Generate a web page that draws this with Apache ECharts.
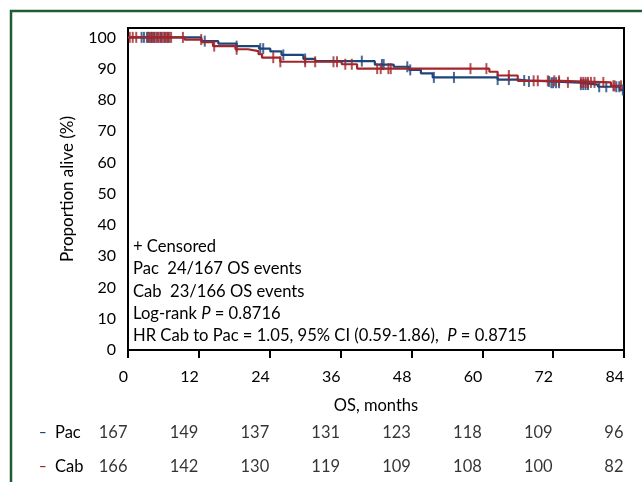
<!DOCTYPE html>
<html>
<head>
<meta charset="utf-8">
<script src="https://cdn.jsdelivr.net/npm/echarts@6/dist/echarts.min.js"></script>
<style>
html, body { margin: 0; padding: 0; background: #fff; }
#c1 { width: 642px; height: 482px; }
</style>
</head>
<body>
<div id="c1"></div>
<script>
var monthTicks = [0, 12, 24, 36, 48, 60, 72, 84];
var pacAtRisk = [167, 149, 137, 131, 123, 118, 109, 96];
var cabAtRisk = [166, 142, 130, 119, 109, 108, 100, 82];

// KM steps: month where each level starts, level in %
var pacTime = [0, 12.4, 15.3, 18.4, 22.2, 24.1, 26.0, 29.7, 31.7, 41.8, 45.0, 47.6, 49.6, 51.6, 62.6, 66.0, 67.7, 71.5, 76.5, 79.6, 83.3, 83.9];
var pacSurv = [100, 98.8, 98.0, 97.2, 96.4, 95.5, 94.4, 93.1, 92.4, 91.3, 90.6, 89.6, 88.5, 87.2, 86.5, 86.2, 85.9, 85.5, 84.9, 84.2, 83.2, 83.2];
var cabTime = [0, 9.6, 12.5, 14.4, 18.2, 20.3, 22.1, 22.7, 25.8, 36.2, 38.8, 61.2, 62.6, 66.0, 73.3, 81.8, 83.6];
var cabSurv = [100, 99.3, 98.5, 97.2, 96.2, 95.6, 94.6, 93.5, 92.2, 91.4, 90.0, 89.0, 87.8, 86.1, 85.6, 84.5, 84.5];

// censored times (months)
var pacCensor = [2.3, 2.7, 3.2, 3.6, 4.0, 4.4, 5.0, 5.6, 6.2, 6.8, 13.0, 18.4, 22.4, 22.9, 26.3, 30.0, 39.6, 43.0, 43.3, 47.3, 47.8, 51.8, 55.2, 62.6, 64.5, 67.1, 67.9, 71.3, 71.7, 72.0, 72.5, 73.0, 76.7, 77.1, 77.5, 77.9, 79.8, 81.0, 82.7, 83.2, 83.8];
var cabCensor = [0.3, 0.8, 1.4, 3.4, 3.8, 4.1, 4.5, 4.8, 5.2, 5.5, 5.9, 6.3, 6.6, 7.0, 7.3, 9.3, 12.4, 14.6, 18.4, 24.6, 25.8, 30.0, 31.7, 34.8, 35.4, 36.8, 37.9, 42.2, 42.8, 44.1, 44.5, 58.0, 60.7, 64.5, 68.7, 69.4, 71.1, 72.2, 73.0, 74.5, 76.7, 77.1, 77.5, 77.9, 78.4, 79.0, 80.5, 82.2, 82.4, 83.5];

var blue = "#1c457a";
var red = "#a3242b";
var font = "Lato";

function stepData(t, s) {
  var res = [];
  for (var i = 0; i < t.length; i++) res.push([t[i], s[i]]);
  return res;
}
function levelAt(t, s, x) {
  var v = s[0];
  for (var i = 0; i < t.length; i++) {
    if (t[i] <= x) v = s[i];
  }
  return v;
}
function censorData(c, t, s) {
  return c.map(function (x) { return [x, levelAt(t, s, x)]; });
}
function riskData(counts, row) {
  return counts.map(function (n, i) { return [monthTicks[i], row, n]; });
}

var chart = echarts.init(document.getElementById("c1"));

var textLines = [
  "+ Censored",
  "Pac  24/167 OS events",
  "Cab  23/166 OS events",
  "Log-rank {i|P} = 0.8716",
  "HR Cab to Pac = 1.05, 95% CI (0.59-1.86),  {i|P} = 0.8715",
];
var textY = [247, 269, 292, 314, 336];
var richIt = { i: { fontStyle: "italic", fontSize: 16.6, fontFamily: font, fill: "#000" } };

var option = {
  backgroundColor: "#fff",
  animation: false,
  grid: [
    {
      left: 128, top: 28, right: 18, bottom: 132,
      show: true, borderColor: "#000", borderWidth: 2,
      outerBoundsMode: "none",
    },
    { left: 128, right: 18, top: 416, height: 68, outerBoundsMode: "none" },
  ],
  xAxis: [
    {
      gridIndex: 0, type: "value", min: 0, max: 84, interval: 12,
      name: "OS, months", nameLocation: "middle", nameGap: 47,
      nameTextStyle: { fontSize: 16.5, fontFamily: font, color: "#000" },
      axisLine: { show: true, lineStyle: { color: "#000", width: 2 } },
      axisTick: { show: true, inside: false, length: 8, lineStyle: { color: "#000", width: 2 } },
      axisLabel: { fontSize: 16, fontFamily: font, color: "#000", align: "right", margin: 19 },
      splitLine: { show: false },
    },
    {
      gridIndex: 1, type: "value", min: 0, max: 84, show: false,
    },
  ],
  yAxis: [
    {
      gridIndex: 0, type: "value", min: 0, max: 103, interval: 10,
      name: "Proportion alive (%)", nameLocation: "middle", nameGap: 52,
      nameTextStyle: { fontSize: 17, fontFamily: font, color: "#000" },
      axisLine: { show: true, lineStyle: { color: "#000", width: 2 } },
      axisTick: { show: false },
      axisLabel: {
        fontSize: 16, fontFamily: font, color: "#000", margin: 12,
        formatter: function (v) { return v > 100 ? "" : v; },
      },
      splitLine: { show: false },
    },
    {
      gridIndex: 1, type: "category", data: ["Cab", "Pac"],
      axisLine: { show: false }, axisTick: { show: false }, splitLine: { show: false },
      axisLabel: {
        fontSize: 16.5, fontFamily: font, color: "#000", align: "left", margin: 89,
        formatter: function (v) {
          return (v === "Pac" ? "{pb|–}" : "{rb|–}") + "  " + v;
        },
        rich: {
          pb: { color: blue, fontWeight: "bold", fontSize: 13, fontFamily: font },
          rb: { color: red, fontWeight: "bold", fontSize: 13, fontFamily: font },
        },
      },
    },
  ],
  series: [
    {
      name: "Pac", type: "line", step: "end", xAxisIndex: 0, yAxisIndex: 0,
      data: stepData(pacTime, pacSurv), showSymbol: false, symbol: "none",
      lineStyle: { color: blue, width: 2.2 }, z: 2,
    },
    {
      name: "Pac censored", type: "scatter", xAxisIndex: 0, yAxisIndex: 0,
      data: censorData(pacCensor, pacTime, pacSurv),
      symbol: "rect", symbolSize: [2, 11], itemStyle: { color: blue }, z: 2,
    },
    {
      name: "Cab", type: "line", step: "end", xAxisIndex: 0, yAxisIndex: 0,
      data: stepData(cabTime, cabSurv), showSymbol: false, symbol: "none",
      lineStyle: { color: red, width: 2.2 }, z: 3,
    },
    {
      name: "Cab censored", type: "scatter", xAxisIndex: 0, yAxisIndex: 0,
      data: censorData(cabCensor, cabTime, cabSurv),
      symbol: "rect", symbolSize: [2, 11], itemStyle: { color: red }, z: 3,
    },
    {
      name: "Pac at risk", type: "scatter", xAxisIndex: 1, yAxisIndex: 1,
      data: riskData(pacAtRisk, "Pac"), symbolSize: 1,
      itemStyle: { color: "rgba(0,0,0,0)" },
      label: {
        show: true, position: "left", distance: 0,
        fontSize: 16.5, fontFamily: font, color: "#000",
        formatter: function (p) { return p.value[2]; },
      },
    },
    {
      name: "Cab at risk", type: "scatter", xAxisIndex: 1, yAxisIndex: 1,
      data: riskData(cabAtRisk, "Cab"), symbolSize: 1,
      itemStyle: { color: "rgba(0,0,0,0)" },
      label: {
        show: true, position: "left", distance: 0,
        fontSize: 16.5, fontFamily: font, color: "#000",
        formatter: function (p) { return p.value[2]; },
      },
    },
  ],
  graphic: [
    {
      type: "rect", silent: true, z: 0,
      shape: { x: 11, y: 11, width: 700, height: 600 },
      style: { fill: "none", stroke: "#1f5c36", lineWidth: 2.5 },
    },
  ].concat(textLines.map(function (t, i) {
    return {
      type: "text", left: 133, top: textY[i] - 9, z: 10,
      style: {
        text: t, fontSize: 16.6, fontFamily: font, fill: "#000",
        rich: richIt,
      },
    };
  })),
};

chart.setOption(option);
</script>
</body>
</html>
